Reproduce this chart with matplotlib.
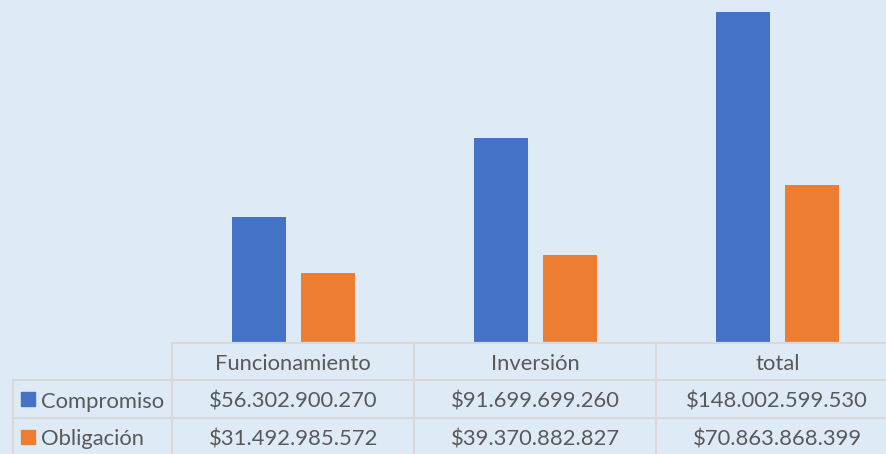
import matplotlib.pyplot as plt
from matplotlib.patches import Rectangle

# Chart data
categories = ["Funcionamiento", "Inversión", "total"]
series_names = ["Compromiso", "Obligación"]
compromiso = [56302900270, 91699699260, 148002599530]
obligacion = [31492985572, 39370882827, 70863868399]

BG = "#DEEBF7"
BLUE = "#4472C4"
ORANGE = "#ED7D31"
TEXT = "#595959"
GRID = "#D9D9D9"
FONT = ["Lato", "DejaVu Sans"]
FS = 15.8

W, H = 886, 454


def money(v):
    return "$" + f"{v:,}".replace(",", ".")


fig = plt.figure(figsize=(W / 100, H / 100), dpi=100, facecolor=BG)

# bar area (pixel layout from the reference)
base_y = 343.3
cat_w = 242
left = 172.3
ax = fig.add_axes([left / W, (H - base_y) / H, 3 * cat_w / W, base_y / H])
ax.set_facecolor(BG)
x = range(len(categories))
off = 0.1426
bw = 0.2232
ax.bar([i - off for i in x], compromiso, width=bw, color=BLUE, zorder=2)
ax.bar([i + off for i in x], obligacion, width=bw, color=ORANGE, zorder=2)
ax.set_xlim(-0.5, 2.5)
ax.set_ylim(0, 153.4e9)
ax.axis("off")

# data table drawn in pixel coordinates
tab = fig.add_axes([0, 0, 1, 1], zorder=3)
tab.set_xlim(0, W)
tab.set_ylim(H, 0)
tab.axis("off")
tab.patch.set_alpha(0)

lw = 1.6
col_edges = [left + k * cat_w for k in range(3)]
tab.plot([left, W], [base_y, base_y], color=GRID, lw=lw)
for yy in [380.3, 418.3]:
    tab.plot([13, W], [yy, yy], color=GRID, lw=lw)
for xx in col_edges:
    tab.plot([xx, xx], [base_y, H], color=GRID, lw=lw)
tab.plot([13, 13], [380.3, H], color=GRID, lw=lw)

for k, cat in enumerate(categories):
    cx = left + (k + 0.5) * cat_w
    tab.text(cx, 369.5, cat, ha="center", va="baseline", fontsize=FS,
             color=TEXT, family=FONT)

rows = [(compromiso, BLUE, 392.3, 407.5), (obligacion, ORANGE, 430.0, 445.0)]
for name, (vals, col, ky, by) in zip(series_names, rows):
    tab.add_patch(Rectangle((21, ky), 14, 14, color=col))
    tab.text(41, by, name, ha="left", va="baseline", fontsize=FS,
             color=TEXT, family=FONT)
    for k, v in enumerate(vals):
        cx = left + (k + 0.5) * cat_w
        tab.text(cx, by, money(v), ha="center", va="baseline", fontsize=FS,
                 color=TEXT, family=FONT)

fig.savefig("out.png", dpi=100, facecolor=BG)
